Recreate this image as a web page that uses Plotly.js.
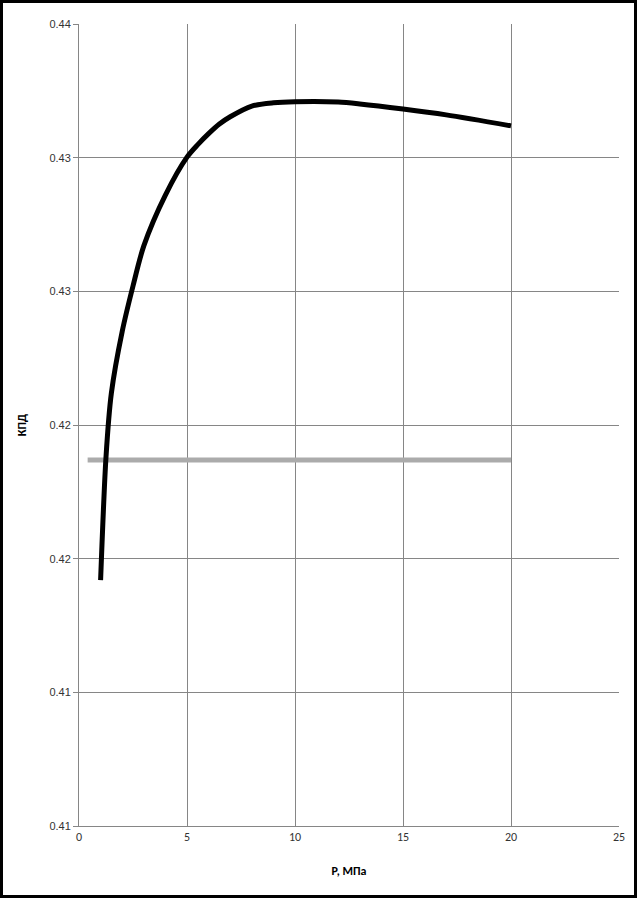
<!DOCTYPE html>
<html>
<head>
<meta charset="utf-8">
<script src="https://cdn.plot.ly/plotly-3.0.1.min.js"></script>
<style>
html,body{margin:0;padding:0;background:#fff;}
#wrap{position:relative;width:637px;height:898px;}
#chart{width:637px;height:898px;}
#frame{position:absolute;left:0;top:0;width:637px;height:898px;box-sizing:border-box;border:3px solid #000;pointer-events:none;}
</style>
</head>
<body>
<div id="wrap"><div id="chart"></div><div id="frame"></div></div>
<script>
// Pressure, MPa
const pressure = [1, 1.25, 1.5, 2, 2.5, 3, 4, 5, 5.5, 6, 6.5, 7, 8, 9, 10, 12, 13, 15, 17, 20];
// Efficiency (КПД) of the main cycle
const efficiency = [0.4142, 0.4188, 0.4212, 0.4235, 0.4252, 0.4267, 0.4286, 0.43002, 0.43049, 0.4309, 0.43126, 0.43153, 0.43193, 0.43205, 0.43209, 0.43208, 0.43201, 0.43182, 0.4316, 0.43119];
// Reference (constant) efficiency
const refPressure = [0.4, 20];
const refEfficiency = [0.41869, 0.41869];
// Y tick values and labels (rounded as on the original)
const yTickVals = [0.405, 0.41, 0.415, 0.42, 0.425, 0.43, 0.435];
const yTickText = ['0.41', '0.41', '0.42', '0.42', '0.43', '0.43', '0.44'];
const xTickVals = [0, 5, 10, 15, 20, 25];

const traces = [
  {x: refPressure, y: refEfficiency, mode: 'lines', line: {color: '#ababab', width: 5}, hoverinfo: 'skip'},
  {x: pressure, y: efficiency, mode: 'lines', line: {color: '#000', width: 5, shape: 'spline', smoothing: 0.8}, hoverinfo: 'skip'}
];

const layout = {
  width: 637, height: 898,
  margin: {l: 79, r: 18, t: 24, b: 72},
  paper_bgcolor: '#fff', plot_bgcolor: '#fff',
  showlegend: false,
  font: {family: 'Liberation Sans, Arial, sans-serif', size: 11, color: '#333'},
  xaxis: {
    range: [0, 25], tickvals: xTickVals, ticktext: xTickVals.map(String),
    showgrid: true, gridcolor: '#868686', gridwidth: 1,
    zeroline: false, showline: true, linecolor: '#868686', linewidth: 1,
    ticks: '', ticklen: 0,
    tickfont: {family: 'Carlito, Liberation Sans, sans-serif', size: 12, color: '#333'},
    title: {text: '<b>P, МПа</b>', standoff: 23, font: {family: 'Carlito, Liberation Sans, sans-serif', size: 12, color: '#000'}}
  },
  yaxis: {
    range: [0.405, 0.435], tickvals: yTickVals, ticktext: yTickText,
    showgrid: true, gridcolor: '#868686', gridwidth: 1,
    zeroline: false, showline: true, linecolor: '#868686', linewidth: 1,
    ticks: 'outside', ticklen: 5, tickcolor: '#868686',
    tickfont: {family: 'Liberation Sans, Arial, sans-serif', size: 11, color: '#333'},
    title: {text: '<b>КПД</b>', standoff: 20, font: {family: 'Carlito, Liberation Sans, sans-serif', size: 12, color: '#000'}}
  }
};

Plotly.newPlot('chart', traces, layout, {staticPlot: true, displayModeBar: false});
</script>
</body>
</html>
